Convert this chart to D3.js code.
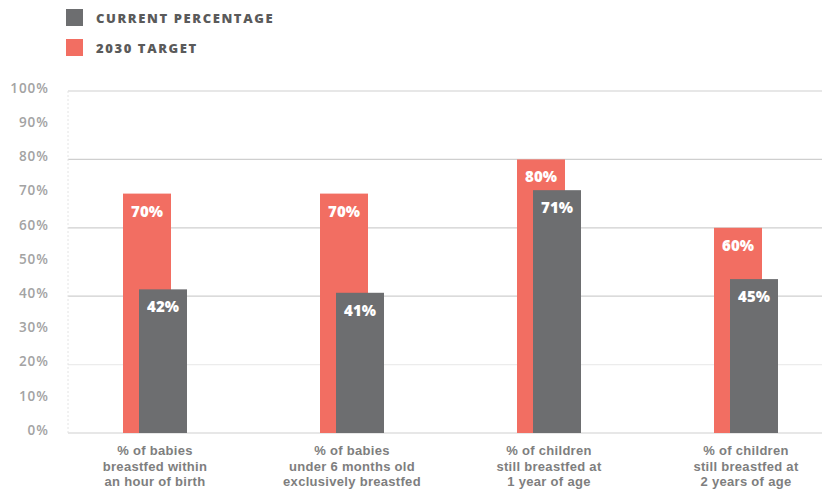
<!DOCTYPE html>
<html>
<head>
<meta charset="utf-8">
<script src="https://d3js.org/d3.v7.min.js"></script>
<style>
  body { margin: 0; background: #fff; }
  svg { display: block; font-family: "Open Sans", "Noto Sans", sans-serif; }
</style>
</head>
<body>
<svg id="chart" width="822" height="490"></svg>
<script>
// chart values
var categories = ['babies1hour', 'babies6months', 'children1year', 'children2years'];
var categoryLabels = [
  ['% of babies', 'breastfed within', 'an hour of birth'],
  ['% of babies', 'under 6 months old', 'exclusively breastfed'],
  ['% of children', 'still breastfed at', '1 year of age'],
  ['% of children', 'still breastfed at', '2 years of age']
];
var currentValues = [42, 41, 71, 45];
var targetValues = [70, 70, 80, 60];
var yTicks = [0, 10, 20, 30, 40, 50, 60, 70, 80, 90, 100];
var gridTicks = [0, 20, 40, 60, 80, 100];
var legendNames = ['CURRENT PERCENTAGE', '2030 TARGET'];

var grey = '#6d6e70', coral = '#f26e62';

var svg = d3.select('#chart');

var x = d3.scalePoint().domain(categories).range([155, 746]);
var y = d3.scaleLinear().domain([0, 100]).range([433, 91]);

// gridlines
svg.append('g')
   .selectAll('line')
   .data(gridTicks)
   .enter().append('line')
   .attr('x1', 68).attr('x2', 822)
   .attr('y1', function(d){ return y(d); })
   .attr('y2', function(d){ return y(d); })
   .style('stroke', function(d){ return d == 20 ? '#ececec' : '#cfcfcf'; })
   .style('stroke-width', 1.2);

// faint left axis
svg.append('line')
   .attr('x1', 68).attr('x2', 68)
   .attr('y1', y(100)).attr('y2', y(0))
   .style('stroke', '#e4e4e4')
   .style('stroke-dasharray', '2,2');

// y tick labels
var yAxis = d3.axisLeft(y).tickValues(yTicks)
              .tickFormat(function(d){ return d + '%'; })
              .tickSize(0).tickPadding(0);
var yG = svg.append('g').attr('transform', 'translate(49,-3)').call(yAxis);
yG.select('.domain').remove();
yG.selectAll('text')
  .style('font-family', '"Open Sans", "Noto Sans", sans-serif')
  .style('font-size', '13.5px')
  .style('font-weight', '600')
  .style('letter-spacing', '1px')
  .style('fill', '#a3a3a3');

// bars
var bars = svg.append('g');
var bw = 48;

bars.selectAll('.target-bar')
    .data(targetValues)
    .enter().append('rect')
    .attr('class', 'target-bar')
    .attr('x', function(d, i){ return x(categories[i]) - 32; })
    .attr('y', function(d){ return y(d); })
    .attr('width', bw)
    .attr('height', function(d){ return y(0) - y(d); })
    .style('fill', coral);

bars.selectAll('.current-bar')
    .data(currentValues)
    .enter().append('rect')
    .attr('class', 'current-bar')
    .attr('x', function(d, i){ return x(categories[i]) - 16; })
    .attr('y', function(d){ return y(d); })
    .attr('width', bw)
    .attr('height', function(d){ return y(0) - y(d); })
    .style('fill', grey);

// value labels
bars.selectAll('.target-label')
    .data(targetValues)
    .enter().append('text')
    .attr('class', 'target-label')
    .attr('x', function(d, i){ return x(categories[i]) - 32 + bw / 2; })
    .attr('y', function(d){ return y(d) + 23; })
    .attr('text-anchor', 'middle')
    .style('font-size', '15px')
    .style('font-weight', '800')
    .style('fill', '#fff')
    .text(function(d){ return d + '%'; });

bars.selectAll('.current-label')
    .data(currentValues)
    .enter().append('text')
    .attr('class', 'current-label')
    .attr('x', function(d, i){ return x(categories[i]) - 16 + bw / 2; })
    .attr('y', function(d){ return y(d) + 23; })
    .attr('text-anchor', 'middle')
    .style('font-size', '15px')
    .style('font-weight', '800')
    .style('fill', '#fff')
    .text(function(d){ return d + '%'; });

// category labels, one text per line (tight line spacing as in the original)
var catG = svg.append('g');
categoryLabels.forEach(function(lines, i){
  catG.selectAll('.cat-' + i)
      .data(lines)
      .enter().append('text')
      .attr('class', 'cat-' + i)
      .attr('x', x(categories[i]))
      .attr('y', function(d, j){ return 455 + j * 15.5; })
      .attr('text-anchor', 'middle')
      .style('font-family', '"Liberation Sans", Arial, sans-serif')
      .style('font-size', '13px')
      .style('font-weight', 'bold')
      .style('letter-spacing', '0.3px')
      .style('fill', '#7e7e7e')
      .text(function(d){ return d; });
});

// legend
var legend = svg.append('g');
var legendColors = [grey, coral];
legend.selectAll('rect')
      .data(legendNames)
      .enter().append('rect')
      .attr('x', 66)
      .attr('y', function(d, i){ return 9 + i * 30; })
      .attr('width', 17).attr('height', 17)
      .style('fill', function(d, i){ return legendColors[i]; });
legend.selectAll('text')
      .data(legendNames)
      .enter().append('text')
      .attr('x', 96)
      .attr('y', function(d, i){ return 22.5 + i * 30; })
      .style('font-size', '13px')
      .style('font-weight', '800')
      .style('letter-spacing', '1.6px')
      .style('fill', '#5a5a5a')
      .text(function(d){ return d; });
</script>
</body>
</html>
